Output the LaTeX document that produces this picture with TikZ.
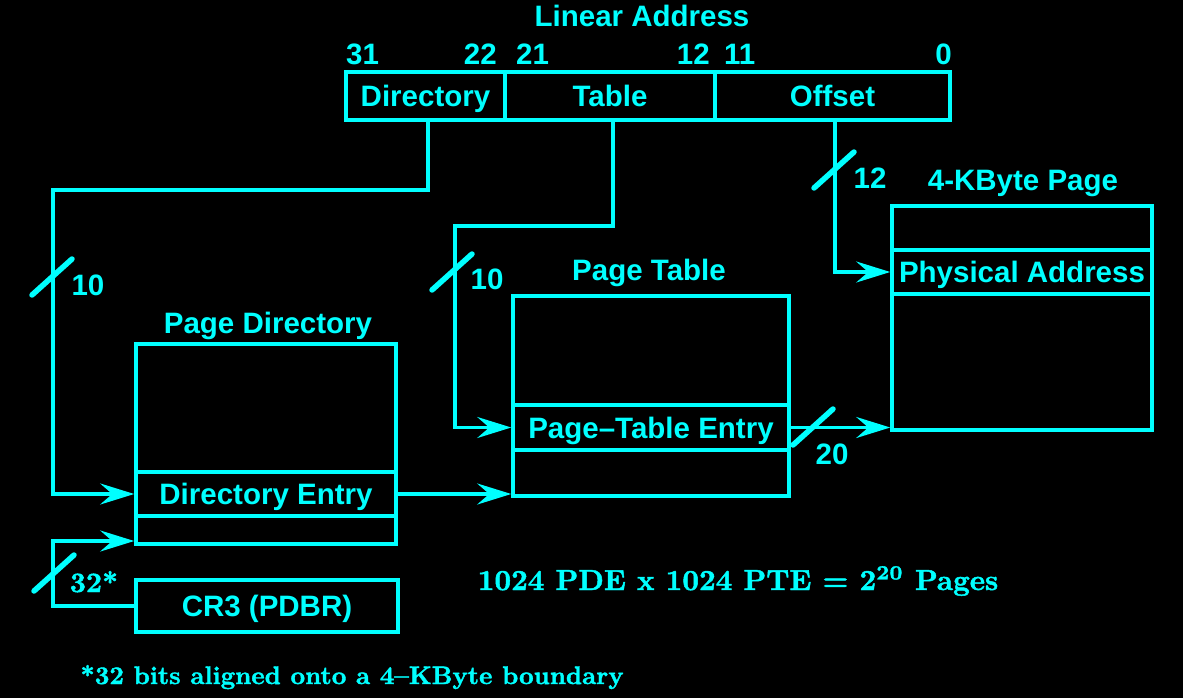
\documentclass[tikz,border=0pt]{standalone}
\usepackage{fontspec}
\setsansfont{Liberation Sans}
\newfontfamily\heavyserif{Latin Modern Roman}[BoldFeatures={FakeBold=1.6}]
\usepackage{tikz}
\usetikzlibrary{arrows.meta}
\definecolor{pgcyan}{RGB}{0,255,255}
\newcommand{\notetext}[2]{\scalebox{#1}{\heavyserif\bfseries\fontsize{10}{12}\selectfont #2}}
\tikzset{
  lbl/.style={font=\sffamily\bfseries\fontsize{29.5}{35}\selectfont, text=pgcyan, inner sep=0pt, anchor=base},
  cell/.style={draw=pgcyan, line width=3.5pt, font=\sffamily\bfseries\fontsize{29.5}{35}\selectfont, text=pgcyan, inner sep=0pt, text height=21pt, text depth=0pt},
  link/.style={draw=pgcyan, line width=3.5pt, -{Stealth[length=34pt,width=21pt,inset=12pt]}},
  slash/.style={draw=pgcyan, line width=5.5pt, line cap=round},
  note/.style={text=pgcyan, inner sep=0pt, anchor=base}
}

\begin{document}
\begin{tikzpicture}[x=1pt,y=-1pt]
\fill[black] (0,0) rectangle (1183,698);
\useasboundingbox (0,0) rectangle (1183,698);

% Linear address
\node[lbl] (lintitle) at (642,27) {Linear Address};
\node[lbl, anchor=base west] (b31) at (346,65) {31};
\node[lbl, anchor=base east] (b22) at (497,65) {22};
\node[lbl, anchor=base west] (b21) at (516,65) {21};
\node[lbl, anchor=base east] (b12) at (710,65) {12};
\node[lbl, anchor=base west] (b11) at (724,65) {11};
\node[lbl, anchor=base east] (b0) at (952,65) {0};
\node[cell, minimum width=159pt, minimum height=48pt] (dirf) at (425.5,96) {Directory};
\node[cell, minimum width=210pt, minimum height=48pt] (tabf) at (610,96) {Table};
\node[cell, minimum width=235pt, minimum height=48pt] (offf) at (832.5,96) {Offset};

% Page directory
\node[lbl] (pdtitle) at (268,333) {Page Directory};
\node[cell, minimum width=260pt, minimum height=128pt] (pdtop) at (266,408) {};
\node[cell, minimum width=260pt, minimum height=44pt] (pde) at (266,494) {Directory Entry};
\node[cell, minimum width=260pt, minimum height=28pt] (pdlow) at (266,530) {};

% Page table
\node[lbl] (pttitle) at (649,280) {Page Table};
\node[cell, minimum width=276pt, minimum height=109pt] (pttop) at (651,350.5) {};
\node[cell, minimum width=276pt, minimum height=45pt] (pte) at (651,427.5) {Page–Table Entry};
\node[cell, minimum width=276pt, minimum height=46pt] (ptlow) at (651,473) {};

% 4-KByte page
\node[lbl] (pgtitle) at (1023,190) {4-KByte Page};
\node[cell, minimum width=260pt, minimum height=44pt] (pgtop) at (1022,228) {};
\node[cell, minimum width=260pt, minimum height=44pt] (phys) at (1022,272) {Physical Address};
\node[cell, minimum width=260pt, minimum height=136pt] (pglow) at (1022,362) {};

% CR3
\node[cell, minimum width=262pt, minimum height=52pt] (cr3) at (267,606) {CR3 (PDBR)};

% Connectors
\coordinate (dirbend) at (53,190);
\coordinate (tabbend) at (455,226);
\coordinate (crbend) at (53,541);
\draw[link] ([xshift=2.5pt]dirf.south) |- (dirbend) |- (pde.west);
\draw[link] ([xshift=3pt]tabf.south) |- (tabbend) |- (pte.west);
\draw[link] ([xshift=2.5pt]offf.south) |- (phys.west);
\draw[link] (pde.east) -- (pde.east -| ptlow.west);
\draw[link] (pte.east) -- (pte.east -| pglow.west);
\draw[link] (cr3.west) -| (crbend) -- (crbend -| pdlow.west);

% Bus widths
\draw[slash] (52,277) ++(-20,18) -- ++(40,-36);
\draw[slash] (452,272) ++(-20,18) -- ++(40,-36);
\draw[slash] (834,170) ++(-20,18) -- ++(40,-36);
\draw[slash] (813,427) ++(-20,18) -- ++(40,-36);
\draw[slash] (54,573) ++(-20,18) -- ++(40,-36);
\node[lbl] (w1) at (88,295) {10};
\node[lbl] (w2) at (487,289) {10};
\node[lbl] (w3) at (870,188) {12};
\node[lbl] (w4) at (832,464) {20};
\node[note] (w5) at (94,592) {\notetext{2.8}{32*}};

% Notes
\node[note] (count) at (738,590) {\notetext{2.9}{1024 PDE x 1024 PTE = 2\textsuperscript{20} Pages}};
\node[note] (foot) at (352,684) {\notetext{2.53}{*32 bits aligned onto a 4–KByte boundary}};
\end{tikzpicture}
\end{document}
